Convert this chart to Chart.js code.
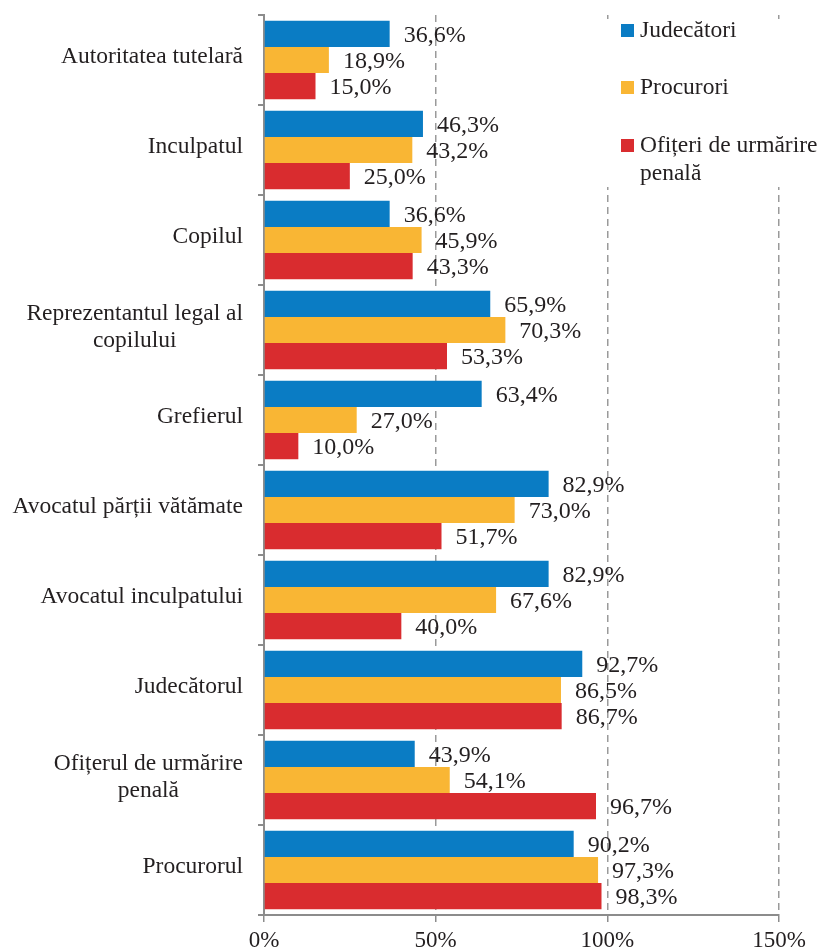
<!DOCTYPE html>
<html>
<head>
<meta charset="utf-8">
<script src="https://cdn.jsdelivr.net/npm/chart.js@4/dist/chart.umd.min.js"></script>
<style>
  html,body{margin:0;padding:0;background:#fff;}
  #wrap{width:821px;height:951px;position:relative;}
</style>
</head>
<body>
<div id="wrap"><canvas id="chart" width="821" height="951"></canvas></div>
<script>
// data
const categories = [
  ['Autoritatea tutelară'],
  ['Inculpatul'],
  ['Copilul'],
  ['Reprezentantul legal al', 'copilului'],
  ['Grefierul'],
  ['Avocatul părții vătămate'],
  ['Avocatul inculpatului'],
  ['Judecătorul'],
  ['Ofițerul de urmărire', 'penală'],
  ['Procurorul']
];
const seriesNames = ['Judecători', 'Procurori', ['Ofițeri de urmărire', 'penală']];
const judecatori = [36.6, 46.3, 36.6, 65.9, 63.4, 82.9, 82.9, 92.7, 43.9, 90.2];
const procurori  = [18.9, 43.2, 45.9, 70.3, 27.0, 73.0, 67.6, 86.5, 54.1, 97.3];
const ofiteri    = [15.0, 25.0, 43.3, 53.3, 10.0, 51.7, 40.0, 86.7, 96.7, 98.3];
const xTicks = [0, 50, 100, 150];

const colors = ['#0a7cc4', '#f9b634', '#d92c2f'];
const SERIF = '"Liberation Serif", "DejaVu Serif", serif';
const TEXT = '#231f20';

function fmt(v){ return v.toFixed(1).replace('.', ',') + '%'; }

// value labels right of each bar
const valueLabels = {
  id:'valueLabels',
  afterDatasetsDraw(chart){
    const ctx = chart.ctx;
    ctx.save();
    ctx.font = '24px ' + SERIF;
    ctx.fillStyle = TEXT;
    ctx.textAlign = 'left';
    ctx.textBaseline = 'middle';
    chart.data.datasets.forEach((ds, di)=>{
      chart.getDatasetMeta(di).data.forEach((bar, i)=>{
        ctx.fillText(fmt(ds.data[i]), bar.x + 14, bar.y + 2);
      });
    });
    ctx.restore();
  }
};

// category labels: lines centred on each other, block right-aligned
const catLabels = {
  id:'catLabels',
  afterDraw(chart){
    const ctx = chart.ctx, ys = chart.scales.y;
    const right = 243, lh = 27;
    ctx.save();
    ctx.font = '23.5px ' + SERIF;
    ctx.fillStyle = TEXT;
    ctx.textAlign = 'center';
    ctx.textBaseline = 'middle';
    categories.forEach((lines, i)=>{
      const y = ys.getPixelForValue(i);
      const w = Math.max(...lines.map(l=>ctx.measureText(l).width));
      const cx = right - w/2;
      const y0 = y - (lines.length-1)*lh/2 - 3;
      lines.forEach((l, k)=> ctx.fillText(l, cx, y0 + k*lh));
    });
    ctx.restore();
  }
};

// legend box in the top right corner
const boxLegend = {
  id:'boxLegend',
  afterDraw(chart){
    const ctx = chart.ctx;
    ctx.save();
    ctx.fillStyle = '#fff';
    ctx.fillRect(600, 19, 200, 168);
    ctx.font = '23.5px ' + SERIF;
    ctx.textBaseline = 'middle';
    ctx.textAlign = 'left';
    const ys = [30, 87, 145];
    seriesNames.forEach((name, i)=>{
      ctx.fillStyle = colors[i];
      ctx.fillRect(621, ys[i]-6, 13, 13);
      ctx.fillStyle = TEXT;
      const lines = Array.isArray(name) ? name : [name];
      lines.forEach((l, k)=> ctx.fillText(l, 640, ys[i] + 1 + k*28));
    });
    ctx.restore();
  }
};

new Chart(document.getElementById('chart'), {
  type:'bar',
  data:{
    labels: categories,
    datasets:[
      {label:'Judecători', data:judecatori, backgroundColor:colors[0]},
      {label:'Procurori', data:procurori, backgroundColor:colors[1]},
      {label:'Ofițeri de urmărire penală', data:ofiteri, backgroundColor:colors[2]}
    ]
  },
  options:{
    indexAxis:'y',
    responsive:false,
    animation:false,
    layout:{padding:{top:15, right:42, left:0, bottom:0}},
    datasets:{bar:{categoryPercentage:0.87, barPercentage:1.0, borderWidth:0}},
    plugins:{legend:{display:false}, tooltip:{enabled:false}},
    scales:{
      x:{
        min:0, max:150,
        afterBuildTicks(s){ s.ticks = xTicks.map(v=>({value:v})); },
        afterFit(s){ s.height = 36; },
        ticks:{
          callback:v=>v + '%',
          font:{family:SERIF, size:23},
          color:TEXT,
          padding:5,
          maxRotation:0
        },
        grid:{
          color:c=> c.tick && c.tick.value === 0 ? 'rgba(0,0,0,0)' : '#9a9a9a',
          lineWidth:1.5,
          tickColor:'#8c8c8c',
          tickLength:7,
          tickBorderDash:[]
        },
        border:{display:true, color:'#8c8c8c', width:2, dash:[7,5]}
      },
      y:{
        afterFit(s){ s.width = 264; },
        ticks:{display:false},
        grid:{
          drawOnChartArea:false,
          offset:true,
          tickLength:6,
          tickColor:'#8c8c8c',
          lineWidth:2
        },
        border:{display:true, color:'#8c8c8c', width:2}
      }
    }
  },
  plugins:[valueLabels, catLabels, boxLegend]
});
</script>
</body>
</html>
